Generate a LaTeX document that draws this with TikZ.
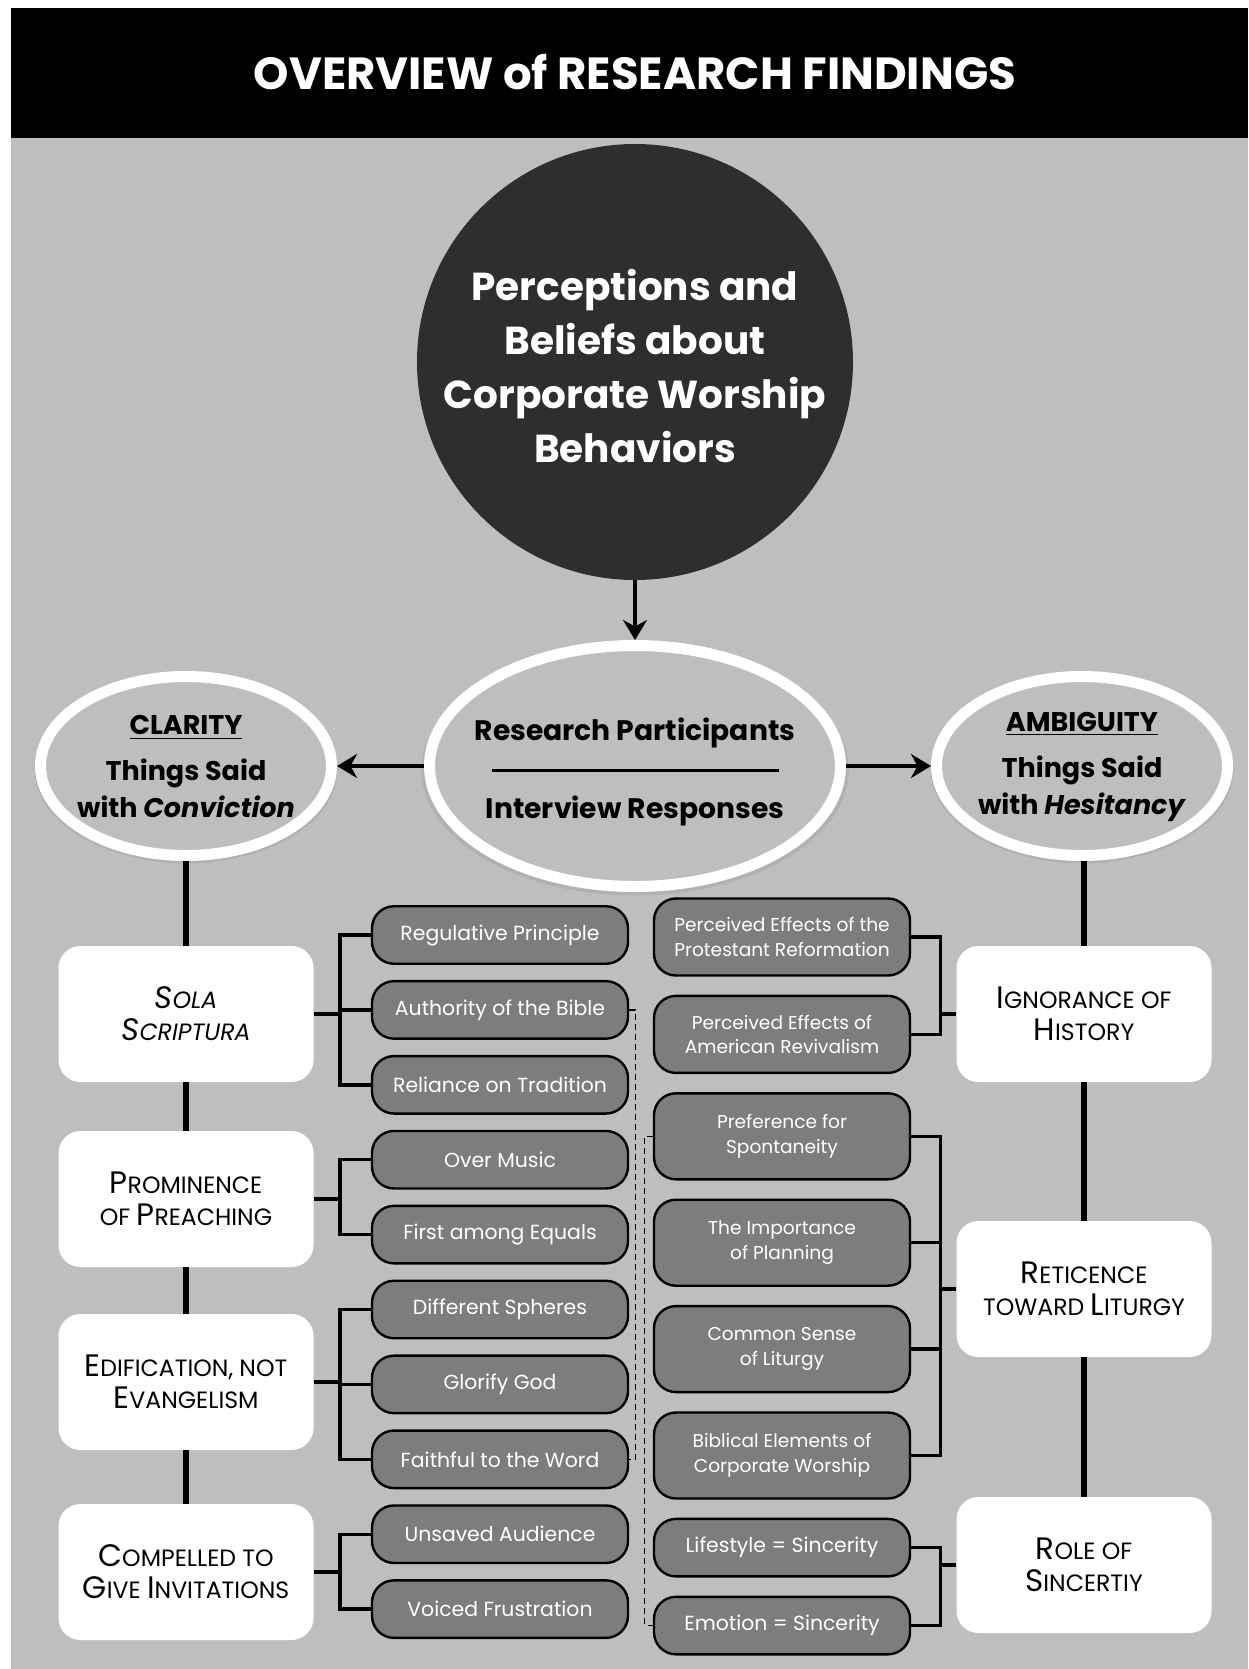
\documentclass[tikz,border=0pt]{standalone}
\usepackage{fontspec}
\setmainfont{Poppins}
\usetikzlibrary{positioning,chains,shapes.geometric,arrows.meta,shadows}

\definecolor{panelgray}{gray}{0.745}
\definecolor{itemgray}{gray}{0.49}
\definecolor{hubgray}{gray}{0.18}

% bigger first letter for the small caps look
\newcommand{\fc}[1]{{\fontsize{15.5}{16}\selectfont #1}}

\begin{document}
\begin{tikzpicture}[x=0.5pt,y=-0.5pt,
  every node/.style={inner sep=0pt},
  titletext/.style={text=white,font=\fontsize{22.5}{26}\selectfont\bfseries},
  hub/.style={circle,fill=hubgray,minimum size=218pt},
  hubtext/.style={text=white,align=center,font=\fontsize{19.5}{27}\selectfont\bfseries},
  bubble/.style={ellipse,draw=white,line width=5.5pt,fill=panelgray,
    drop shadow={opacity=.2,shadow xshift=0pt,shadow yshift=-2pt,shadow scale=1.04}},
  part/.style={bubble,minimum width=205.5pt,minimum height=120.5pt},
  side/.style={bubble,minimum width=145.5pt,minimum height=89.5pt},
  bubbletext/.style={align=center,font=\fontsize{13.5}{18.5}\selectfont\bfseries},
  topic/.style={rectangle,rounded corners=11pt,fill=white,minimum width=127.5pt,
    minimum height=68pt,align=center,font=\fontsize{11.8}{16}\selectfont},
  italtopic/.style={topic,font=\fontsize{11.8}{16}\selectfont\itshape},
  item/.style={rectangle,rounded corners=11pt,draw=black,line width=1.2pt,fill=itemgray,
    text=white,minimum width=128pt,minimum height=28.75pt,align=center,
    font=\fontsize{10.2}{12.25}\selectfont},
  item2/.style={item,minimum height=38.5pt,font=\fontsize{9.3}{12.25}\selectfont},
  item3/.style={item2,minimum height=43pt},
  flow/.style={line width=2.3pt,-{Stealth[length=10pt,width=12pt]}},
  trunk/.style={line width=2.6pt},
  bracket/.style={line width=1.7pt},
  linkdash/.style={line width=0.6pt,dash pattern=on 3pt off 2pt}
]
\useasboundingbox (0,0) rectangle (1248,1669);
\fill[white] (0,0) rectangle (1248,1669);
\fill[black] (11,8.5) rectangle (1248,138);
\fill[panelgray] (11,138) rectangle (1248,1669);

\node[titletext] (title) at (635,72) {OVERVIEW of RESEARCH FINDINGS};

% the hub and the three bubbles
\node[hub] (hub) at (635,362) {};
\node[hubtext] (hublbl) at (635,366) {Perceptions and\\Beliefs about\\Corporate Worship\\Behaviors};

\node[part] (part) at (635,766) {};
\node[bubbletext,font=\fontsize{14.1}{18.5}\selectfont\bfseries] (partlbl) at (635,772)
  {Research Participants\\[-3pt]\rule{143.5pt}{1.5pt}\\[5pt]Interview Responses};

\node[side] (clar) at (186,766) {};
\node[bubbletext] (clarlbl) at (186,767) {\underline{CLARITY}\\[4.5pt]Things Said\\with \textit{Conviction}};
\node[side] (amb) at (1082,766) {};
\node[bubbletext] (amblbl) at (1082,767) {\underline{AMBIGUITY}\\[4.5pt]Things Said\\with \textit{Hesitancy}};

\draw[flow] (hub) -- (part);
\draw[flow] (part) -- (clar);
\draw[flow] (part) -- (amb);

% the topics
\node[italtopic] (sola) at (186,1014) {\fc{S}OLA\\\fc{S}CRIPTURA};
\node[topic] (prom) at (186,1199) {\fc{P}ROMINENCE\\OF \fc{P}REACHING};
\node[topic] (edif) at (186,1382) {\fc{E}DIFICATION, NOT\\\fc{E}VANGELISM};
\node[topic] (comp) at (186,1572) {\fc{C}OMPELLED TO\\\fc{G}IVE \fc{I}NVITATIONS};

\node[topic] (ign) at (1084,1014) {\fc{I}GNORANCE OF\\\fc{H}ISTORY};
\node[topic] (ret) at (1084,1289) {\fc{R}ETICENCE\\TOWARD \fc{L}ITURGY};
\node[topic] (role) at (1084,1565) {\fc{R}OLE OF\\\fc{S}INCERTIY};

\draw[trunk] (clar) -- (sola);
\draw[trunk] (sola) -- (prom);
\draw[trunk] (prom) -- (edif);
\draw[trunk] (edif) -- (comp);
\draw[trunk] (amb.south -| ign.north) -- (ign);
\draw[trunk] (ign) -- (ret);
\draw[trunk] (ret) -- (role);

% the items of clarity
\begin{scope}[shift={(500,935)},start chain=going below,node distance=7.5pt]
\foreach \n/\t in {reg/Regulative Principle,auth/Authority of the Bible,
    rel/Reliance on Tradition,music/Over Music,first/First among Equals,
    spher/Different Spheres,glor/Glorify God,faith/Faithful to the Word,
    unsav/Unsaved Audience,voice/Voiced Frustration}
  \node[item,on chain] (\n) {\t};
\end{scope}

% the items of ambiguity
\begin{scope}[shift={(782,937)},start chain=going below,node distance=9pt]
\foreach \n/\s/\t in {prot/item2/{Perceived Effects of the\\Protestant Reformation},
    reviv/item2/{Perceived Effects of\\American Revivalism},
    spont/item3/{Preference for\\Spontaneity},
    plan/item3/{The Importance\\of Planning},
    sense/item3/{Common Sense\\of Liturgy},
    bibl/item3/{Biblical Elements of\\Corporate Worship},
    life/item/{Lifestyle = Sincerity},
    emot/item/{Emotion = Sincerity}}
  \node[\s,on chain] (\n) {\t};
\end{scope}

% the brackets
\draw[bracket] (reg.west) -- ++(-15.5pt,0) coordinate (solak) |- (rel.west);
\draw[bracket] (auth.west) -- (auth.west -| solak);
\draw[bracket] (sola.east) -- (sola.east -| solak);

\draw[bracket] (music.west) -- ++(-15.5pt,0) coordinate (promk) |- (first.west);
\draw[bracket] (prom.east) -- (prom.east -| promk);

\draw[bracket] (spher.west) -- ++(-15.5pt,0) coordinate (edifk) |- (faith.west);
\draw[bracket] (glor.west) -- (glor.west -| edifk);
\draw[bracket] (edif.east) -- (edif.east -| edifk);

\draw[bracket] (unsav.west) -- ++(-15.5pt,0) coordinate (compk) |- (voice.west);
\draw[bracket] (comp.east) -- (comp.east -| compk);

\draw[bracket] (prot.east) -- ++(14.5pt,0) coordinate (ignk) |- (reviv.east);
\draw[bracket] (ign.west) -- (ign.west -| ignk);

\draw[bracket] (spont.east) -- ++(14.5pt,0) coordinate (retk) |- (bibl.east);
\draw[bracket] (plan.east) -- (plan.east -| retk);
\draw[bracket] (sense.east) -- (sense.east -| retk);
\draw[bracket] (ret.west) -- (ret.west -| retk);

\draw[bracket] (life.east) -- ++(14.5pt,0) coordinate (rolek) |- (emot.east);
\draw[bracket] (role.west) -- (role.west -| rolek);

% the dashed links
\draw[linkdash] (auth.east) -- ++(3pt,0) |- (faith.east);
\draw[linkdash] (spont.west) -- ++(-4pt,0) |- (emot.west);

\end{tikzpicture}
\end{document}
